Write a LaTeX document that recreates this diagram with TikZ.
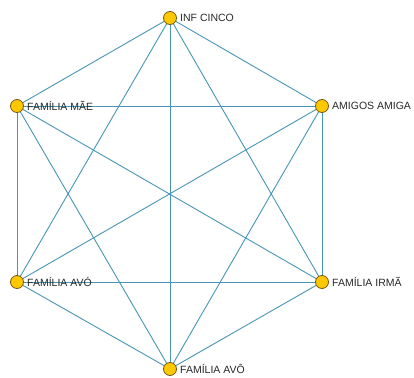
\documentclass[tikz,border=0pt]{standalone}
\usepackage{fontspec}
\setmainfont{Liberation Sans}
\definecolor{edgec}{RGB}{70,150,180}
\definecolor{nodefill}{RGB}{255,200,0}
\definecolor{nodedraw}{RGB}{120,90,20}
\definecolor{labc}{RGB}{40,40,40}
\begin{document}
\begin{tikzpicture}[x=1bp,y=-1bp,
  vert/.style={circle,fill=nodefill,draw=nodedraw,line width=0.8bp,minimum size=13bp,inner sep=0pt},
  lab/.style={anchor=west,inner sep=0pt,text=labc,font=\fontsize{10.5bp}{12bp}\selectfont},
  edge/.style={draw=edgec,line width=0.9bp}]
\useasboundingbox (0,0) rectangle (414,378);
\coordinate (inf) at (170,18);
\coordinate (mae) at (17,106);
\coordinate (ami) at (322,106);
\coordinate (avo) at (17,282);
\coordinate (irm) at (322,282);
\coordinate (avv) at (170,369);
\foreach \a/\b in {inf/mae,inf/ami,inf/avo,inf/irm,inf/avv,
  mae/ami,mae/avo,mae/irm,mae/avv,
  ami/avo,ami/irm,ami/avv,
  avo/irm,avo/avv,irm/avv}
  \draw[edge] (\a) -- (\b);
\node[vert] (ninf) at (inf) {};
\node[vert] (nmae) at (mae) {};
\node[vert] (nami) at (ami) {};
\node[vert] (navo) at (avo) {};
\node[vert] (nirm) at (irm) {};
\node[vert] (navv) at (avv) {};
\node[lab] (linf) at ([xshift=10bp]inf) {INF CINCO};
\node[lab] (lmae) at ([xshift=10bp]mae) {FAMÍLIA MÃE};
\node[lab] (lami) at ([xshift=10bp]ami) {AMIGOS AMIGA};
\node[lab] (lavo) at ([xshift=10bp]avo) {FAMÍLIA AVÓ};
\node[lab] (lirm) at ([xshift=10bp]irm) {FAMÍLIA IRMÃ};
\node[lab] (lavv) at ([xshift=10bp]avv) {FAMÍLIA AVÔ};
\end{tikzpicture}
\end{document}
